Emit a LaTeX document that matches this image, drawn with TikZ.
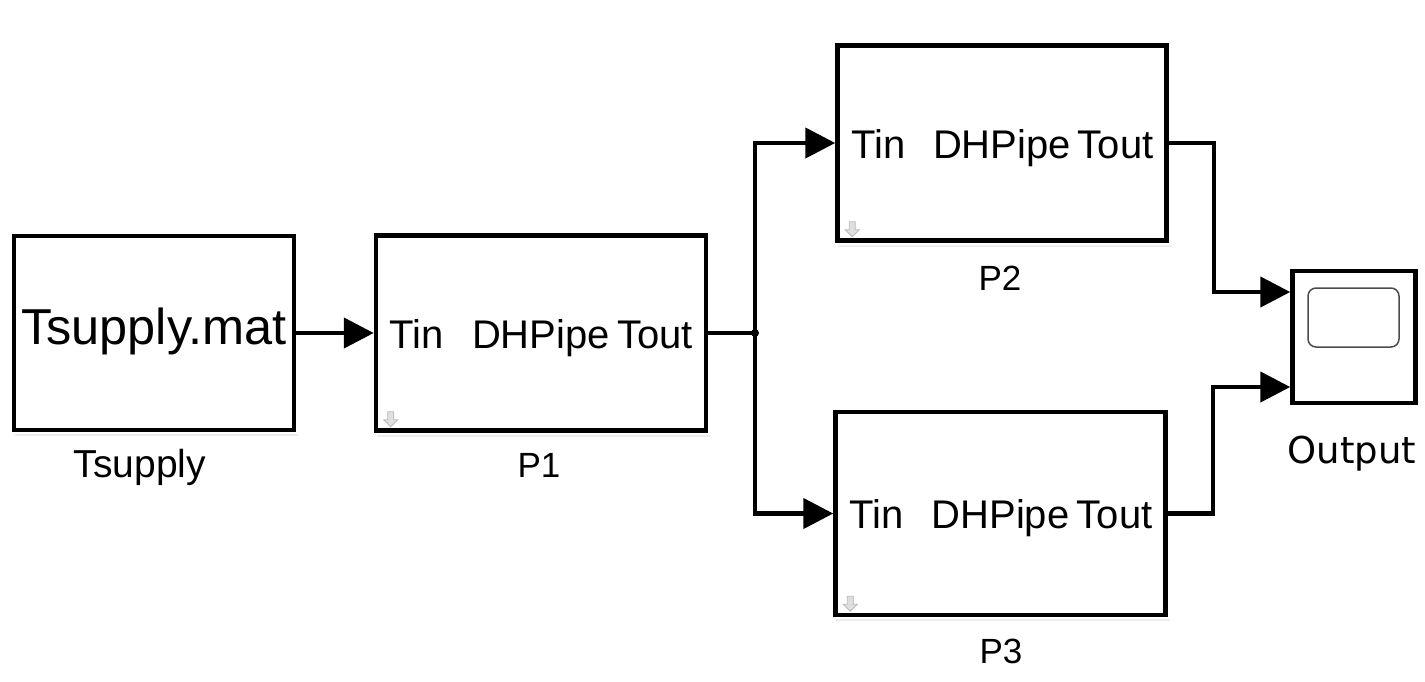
\documentclass[tikz,border=0pt]{standalone}
\usepackage{fontspec}
\setmainfont{Liberation Sans}
\newfontfamily\outfont{DejaVu Sans}
\usetikzlibrary{arrows.meta,calc}
\begin{document}
\begin{tikzpicture}[x=1pt,y=-1pt,
  blk/.style={draw,line width=4.5pt,inner sep=0pt,fill=white},
  wire/.style={line width=4.5pt,-{Triangle[length=30pt,width=30pt]}},
  plainwire/.style={line width=4.5pt},
  lbl/.style={inner sep=0pt,anchor=base,font=\fontsize{35}{35}\selectfont},
  port/.style={inner sep=0pt,font=\fontsize{40}{40}\selectfont},
  shadowline/.style={draw=black!7,line width=2pt},
  dnarrow/.pic={\filldraw[draw=gray!55,fill=gray!25,line width=0.8pt]
     (0,0) -- (-7,-7) -- (-3,-7) -- (-3,-15) -- (3,-15) -- (3,-7) -- (7,-7) -- cycle;}]
\useasboundingbox (0,0) rectangle (1425,681);
\fill[white] (0,0) rectangle (1425,681);

% blocks
\node[blk,minimum width=280pt,minimum height=194pt] (Tsup) at (154,333) {};
\node[blk,minimum width=330pt,minimum height=195pt] (P1) at (541,333) {};
\node[blk,minimum width=329pt,minimum height=195pt] (P2) at (1002,143) {};
\node[blk,minimum width=330pt,minimum height=203pt] (P3) at (1000.5,513.5) {};
\node[blk,minimum width=123pt,minimum height=132pt] (Scope) at (1354,337) {};
\node[draw=black!70,line width=1.5pt,rounded corners=8pt,inner sep=0pt,
      minimum width=91pt,minimum height=59pt] (screen) at (1353.5,317.5) {};

% shadows
\foreach \b in {Tsup,P1,P2,P3}{
  \draw[shadowline] ([shift={(3,3)}]\b.south west) -- ([shift={(2,3)}]\b.south east);
}

% block texts
\node[inner sep=0pt,anchor=base,font=\fontsize{50.5}{50.5}\selectfont] (TsupTxt) at (154,344) {Tsupply.mat};
\foreach \b in {P1,P2,P3}{
  \node[port,anchor=base west] (\b-in) at ([shift={(16,15)}]\b.west) {Tin};
  \node[port,anchor=base] (\b-name) at ([shift={(0,15)}]\b.center) {DHPipe};
  \node[port,anchor=base east] (\b-out) at ([shift={(-15,15)}]\b.east) {Tout};
  \pic at ([shift={(17,-6)}]\b.south west) {dnarrow};
}

% labels
\node[inner sep=0pt,anchor=base,font=\fontsize{39}{39}\selectfont] (TsupLbl) at (140,477) {Tsupply};
\node[lbl] (P1Lbl) at (539,477) {P1};
\node[lbl] (P2Lbl) at (1000,290) {P2};
\node[lbl] (P3Lbl) at (1001,663) {P3};
\node[inner sep=0pt,anchor=base,font=\outfont\fontsize{37}{37}\selectfont] (OutLbl) at (1352,463) {Output};

% connectors
\coordinate (J) at (755,333);
\coordinate (y1) at (0,292);
\coordinate (y2) at (0,387);
\draw[wire] (Tsup.east) -- (P1.west);
\draw[plainwire] (P1.east) -- (J);
\fill (J) circle (4pt);
\draw[wire] (J) |- (P2.west);
\draw[wire] (J) |- (P3.west);
\draw[wire] (P2.east) -- ++(45,0) |- (Scope.west |- y1);
\draw[wire] (P3.east) -- ++(45,0) |- (Scope.west |- y2);
\end{tikzpicture}
\end{document}
